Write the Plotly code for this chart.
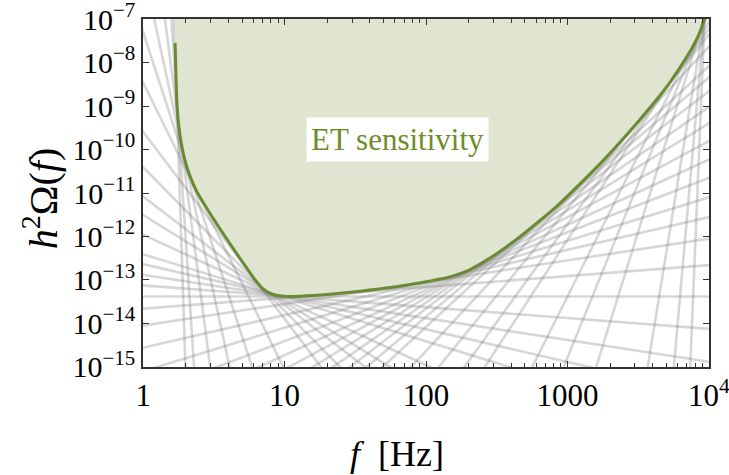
import numpy as np
import plotly.graph_objects as go

# ET power-law integrated sensitivity curve (log10 f [Hz], log10 h^2 Omega)
curve_logf = [0.226, 0.232, 0.240, 0.260, 0.290, 0.330, 0.380, 0.440, 0.520, 0.600, 0.680, 0.740,
              0.790, 0.840, 0.900, 0.980, 1.060, 1.200, 1.320, 1.500, 1.800, 2.000, 2.170, 2.300,
              2.400, 2.480, 2.560, 2.700, 2.930, 3.230, 3.510, 3.720, 3.870, 3.940, 3.970]
curve_logO = [-7.55, -8.30, -9.00, -9.65, -10.18, -10.60, -10.97, -11.30, -11.71, -12.10, -12.48, -12.76,
              -12.99, -13.18, -13.31, -13.37, -13.38, -13.36, -13.33, -13.27, -13.15, -13.04, -12.93, -12.78,
              -12.60, -12.44, -12.26, -11.91, -11.29, -10.33, -9.32, -8.48, -7.73, -7.27, -6.95]
curve_f = [10 ** v for v in curve_logf]
curve_omega = [10 ** v for v in curve_logO]

# power-law indices of the grey tangent lines
betas_neg = [-100, -50, -25, -15, -10, -6.6, -4.3, -3.3, -2.5, -2, -1.5, -1, -0.75, -0.5, -0.25]
betas_pos = [0, 0.25, 0.5, 0.75, 1, 1.25, 1.5, 1.75, 2, 2.25, 2.5, 2.75, 3, 3.5, 4, 4.5, 5,
             6.5, 8, 10.5, 20, 37, 79]
betas = betas_neg + betas_pos

x_ticks = [1, 10, 100, 1000, 10000]
x_ticktext = ["1", "10", "100", "1000", "10<sup>4</sup>"]
y_exps = [-15, -14, -13, -12, -11, -10, -9, -8, -7]
label_text = "ET sensitivity"

GREEN = "rgb(107,138,52)"
FILL = "rgb(224,229,209)"
FONT = "Liberation Serif"

fig = go.Figure()

lf = np.array(curve_logf)
lo = np.array(curve_logO)
for b in betas:
    icpt = np.min(lo - b * lf)  # line touching the curve from below
    if b == 0:
        x0, x1 = -0.2, 4.2
    else:
        xa = (-15.8 - icpt) / b
        xb = (-6.2 - icpt) / b
        x0, x1 = max(min(xa, xb), -0.2), min(max(xa, xb), 4.2)
    xs = np.array([x0, x1])
    ys = icpt + b * xs
    fig.add_trace(go.Scatter(x=10 ** xs, y=10 ** ys, mode="lines",
                             line=dict(color="rgba(120,120,120,0.30)", width=2.6),
                             hoverinfo="skip", showlegend=False))

# shaded region above the curve
fill_x = curve_f + [curve_f[-1], curve_f[0]]
fill_y = curve_omega + [1e-6, 1e-6]
fig.add_trace(go.Scatter(x=fill_x, y=fill_y, mode="lines", fill="toself",
                         fillcolor=FILL, line=dict(width=0), hoverinfo="skip", showlegend=False))
fig.add_trace(go.Scatter(x=curve_f, y=curve_omega, mode="lines",
                         line=dict(color=GREEN, width=3, shape="spline", smoothing=0.5),
                         showlegend=False))

minor_x = [m * 10 ** d for d in range(0, 4) for m in range(2, 10)]

fig.update_xaxes(type="log", range=[-0.001, 4.001], tickmode="array", tickvals=x_ticks, ticktext=x_ticktext,
                 ticks="inside", ticklen=6, tickwidth=1.2, tickcolor="#333",
                 minor=dict(tickmode="array", tickvals=minor_x, ticks="inside", ticklen=4,
                            tickwidth=1, tickcolor="#333", showgrid=False),
                 showline=True, linecolor="#333", linewidth=1.5, mirror="allticks",
                 showgrid=False, zeroline=False, automargin=False, ticklabeloverflow="allow",
                 tickfont=dict(family=FONT, size=31, color="black"))
fig.update_yaxes(type="log", range=[-15.002, -6.998], tickmode="array",
                 tickvals=[10.0 ** e for e in y_exps],
                 ticktext=["10<sup>\u2212%d</sup>" % (-e) for e in y_exps],
                 ticks="inside", ticklen=6, tickwidth=1.2, tickcolor="#333",
                 showline=True, linecolor="#333", linewidth=1.5, mirror="allticks",
                 showgrid=False, zeroline=False, automargin=False, ticklabeloverflow="allow",
                 tickfont=dict(family=FONT, size=30, color="black"))

fig.add_annotation(x=1.795, y=-9.76, xref="x", yref="y", text=label_text, showarrow=False,
                   font=dict(family=FONT, size=31, color="rgb(110,140,40)"),
                   bgcolor="white", borderpad=4)
fig.add_annotation(x=0.449, y=-0.25, xref="paper", yref="paper",
                   xanchor="center", yanchor="middle",
                   text="<i>f</i>  [Hz]", showarrow=False,
                   font=dict(family=FONT, size=36, color="black"))
fig.add_annotation(x=-0.182, y=0.485, xref="paper", yref="paper",
                   xanchor="center", yanchor="middle",
                   text="<i>h</i><sup>2</sup>\u03a9(<i>f</i>)", showarrow=False, textangle=-90,
                   font=dict(family=FONT, size=40, color="black"))

fig.update_layout(width=729, height=475, margin=dict(l=143, r=20, t=19, b=108),
                  plot_bgcolor="white", paper_bgcolor="white", showlegend=False)

fig.write_html("out.html")
